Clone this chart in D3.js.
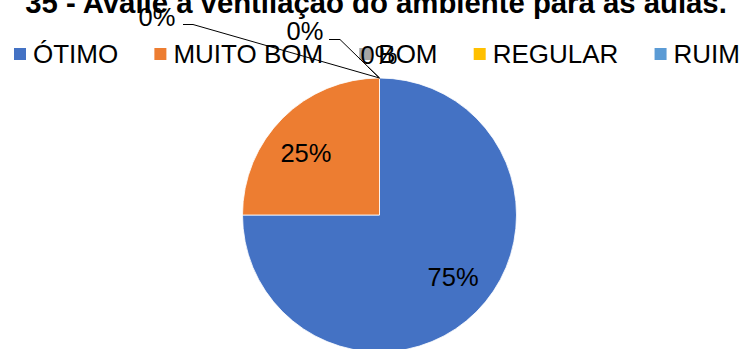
<!DOCTYPE html>
<html>
<head>
<meta charset="utf-8">
<script src="https://cdn.jsdelivr.net/npm/d3@7/dist/d3.min.js"></script>
<style>
  html, body { margin: 0; padding: 0; background: #fff; }
  svg { display: block; font-family: "Liberation Sans", Arial, sans-serif; }
</style>
</head>
<body>
<svg id="chart" width="745" height="349"></svg>
<script>
// Survey answers (percent of respondents)
const categories = ["ÓTIMO", "MUITO BOM", "BOM", "REGULAR", "RUIM"];
const values = [75, 25, 0, 0, 0];
const colors = ["#4472C4", "#ED7D31", "#A5A5A5", "#FFC000", "#5B9BD5"];
const title = "35 - Avalie a ventilação do ambiente para as aulas.";

// Where the zero-size slices put their labels (outside the pie, with leader lines)
const outsideLabels = [
  { index: 2, x: 157, y: 26, elbow: [[183, 24.5], [193, 24.5]] },
  { index: 3, x: 305, y: 40, elbow: [[329, 39.5], [340, 39.5]] },
  { index: 4, x: 379, y: 64, elbow: [[368, 67]] }
];

const W = 745, H = 349;
const cx = 379.5, cy = 215, R = 137;
const svg = d3.select("#chart");

// Title (sized to span the chart width)
const titleText = svg.append("text")
  .attr("x", 376).attr("y", 13)
  .attr("text-anchor", "middle")
  .attr("font-size", 29).attr("font-weight", "bold")
  .attr("fill", "#000")
  .text(title);
const tw = titleText.node().getComputedTextLength();
titleText.attr("font-size", 29 * 702 / tw);

// Pie
const data = categories.map((c, i) => ({ cat: c, value: values[i], color: colors[i], index: i }));
const pie = d3.pie().value(d => d.value).sort(null);
const arcs = pie(data);
const arc = d3.arc().innerRadius(0).outerRadius(R);

const g = svg.append("g").attr("transform", `translate(${cx},${cy})`);
g.selectAll("path.slice")
  .data(arcs.filter(a => a.data.value > 0))
  .join("path")
  .attr("class", "slice")
  .attr("d", arc)
  .attr("fill", d => d.data.color)
  .attr("stroke", "#fff")
  .attr("stroke-width", 0.8);

const fmt = v => d3.format(".0%")(v / d3.sum(values));

// Inside labels, placed along an ellipse through each slice's middle angle
const rx = 104, ry = 88;
g.selectAll("text.inside")
  .data(arcs.filter(a => a.data.value > 0))
  .join("text")
  .attr("class", "inside")
  .attr("x", d => rx * Math.sin((d.startAngle + d.endAngle) / 2))
  .attr("y", d => -ry * Math.cos((d.startAngle + d.endAngle) / 2))
  .attr("dy", "0.35em")
  .attr("text-anchor", "middle")
  .attr("font-size", 25.5)
  .attr("fill", "#000")
  .text(d => fmt(d.data.value));

// Legend: one row from x=14 to x=740, gaps spread evenly
const legend = svg.append("g").attr("class", "legend");
const ly = 54, legX0 = 14, legX1 = 740, sw = 12, pad = 19;
const items = data.map(d => {
  const item = legend.append("g");
  const rect = item.append("rect")
    .attr("y", ly - 6).attr("width", sw).attr("height", sw)
    .attr("fill", d.color);
  const t = item.append("text")
    .attr("y", ly + 9)
    .attr("font-size", 26)
    .attr("fill", "#000")
    .text(d.cat);
  return { rect, t, w: pad + t.node().getComputedTextLength() };
});
const gap = (legX1 - legX0 - d3.sum(items, d => d.w)) / (items.length - 1);
let lx = legX0;
items.forEach(it => {
  it.rect.attr("x", lx);
  it.t.attr("x", lx + pad);
  lx += it.w + gap;
});

// Outside labels for the empty slices, drawn over the legend
outsideLabels.forEach(o => {
  const a = arcs[o.index];
  const pt = [cx + R * Math.sin(a.startAngle), cy - R * Math.cos(a.startAngle)];
  svg.append("path")
    .attr("d", d3.line()([...o.elbow, pt]))
    .attr("fill", "none")
    .attr("stroke", "#000")
    .attr("stroke-width", 1);
  svg.append("text")
    .attr("x", o.x).attr("y", o.y)
    .attr("text-anchor", "middle")
    .attr("font-size", 25.5)
    .attr("fill", "#000")
    .text(fmt(a.data.value));
});
</script>
</body>
</html>
